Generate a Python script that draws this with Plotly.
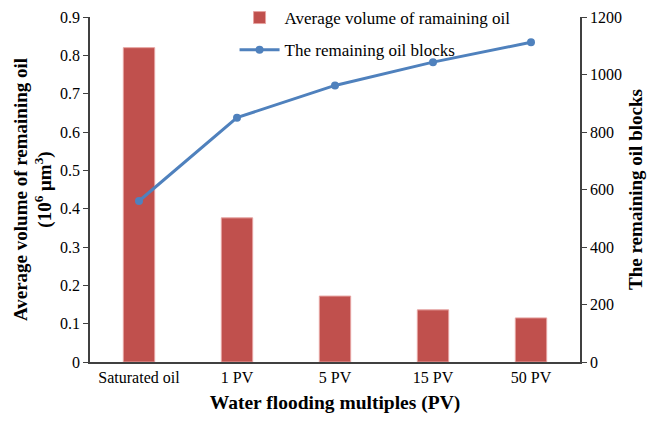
import plotly.graph_objects as go

categories = ["Saturated oil", "1 PV", "5 PV", "15 PV", "50 PV"]
avg_volume = [0.82, 0.376, 0.172, 0.136, 0.115]
oil_blocks = [560, 850, 962, 1043, 1112]

left_ticks = [0, 0.1, 0.2, 0.3, 0.4, 0.5, 0.6, 0.7, 0.8, 0.9]
left_labels = ["0", "0.1", "0.2", "0.3", "0.4", "0.5", "0.6", "0.7", "0.8", "0.9"]
right_ticks = [0, 200, 400, 600, 800, 1000, 1200]

font_family = "Liberation Serif, Times New Roman, serif"

fig = go.Figure()
fig.add_trace(go.Bar(
    x=categories, y=avg_volume, name="Average volume of ramaining oil",
    marker=dict(color="#C0504D", line=dict(color="#E6A3A1", width=1)),
    width=0.32, yaxis="y", legendgroup="a",
))
fig.add_trace(go.Scatter(
    x=categories, y=oil_blocks, name="The remaining oil blocks",
    mode="lines+markers", line=dict(color="#4F81BD", width=3),
    marker=dict(color="#4F81BD", size=8), yaxis="y2", legendgroup="b",
))

fig.update_layout(
    width=652, height=421,
    margin=dict(l=90, r=72, t=17, b=59, autoexpand=False),
    paper_bgcolor="white", plot_bgcolor="white",
    font=dict(family=font_family, size=16, color="black"),
    showlegend=True,
    legend=dict(x=0.295, y=1.012, xanchor="left", yanchor="top", yref="container",
                bgcolor="rgba(0,0,0,0)", font=dict(size=17, family=font_family),
                itemwidth=40, traceorder="grouped", tracegroupgap=7),
    xaxis=dict(
        range=[-0.5, 4.5], showgrid=False, showline=True, linecolor="#404040",
        linewidth=1.5, ticks="", tickfont=dict(size=16),
        title=dict(text="<b>Water flooding multiples (PV)</b>", font=dict(size=19.5), standoff=10),
    ),
    yaxis=dict(
        range=[0, 0.9], tickvals=left_ticks, ticktext=left_labels,
        showgrid=False, zeroline=False, showline=True, linecolor="#404040", linewidth=1.5,
        ticks="outside", ticklen=5, tickcolor="#404040", tickfont=dict(size=16),
        title=dict(text="<b>Average volume of remaining oil<br>(10<sup>6</sup> μm<sup>3</sup>)</b>",
                   font=dict(size=19), standoff=3),
    ),
    yaxis2=dict(
        range=[0, 1200], tickvals=right_ticks, overlaying="y", side="right",
        showgrid=False, zeroline=False, showline=True, linecolor="#404040", linewidth=1.5,
        ticks="outside", ticklen=5, tickcolor="#404040", tickfont=dict(size=16),
        title=dict(text="<b>The remaining oil blocks</b>", font=dict(size=19), standoff=8),
    ),
)

fig.write_html("out.html")
